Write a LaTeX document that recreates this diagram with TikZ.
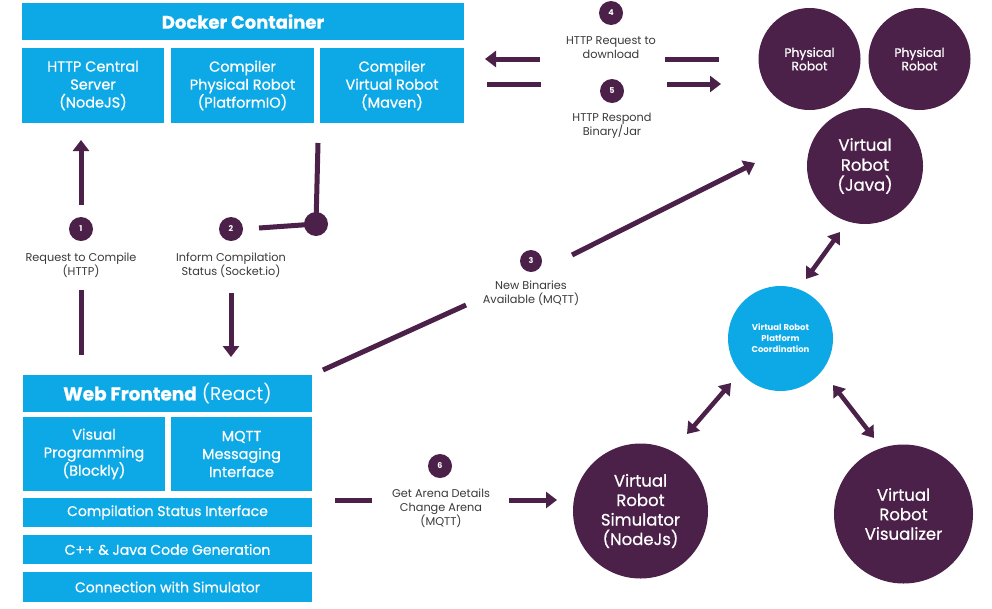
\documentclass[tikz,border=0pt]{standalone}
\usepackage{fontspec}
\setmainfont{Poppins}
\newfontfamily\medfont{Poppins}[FakeBold=0.7]
\usetikzlibrary{arrows.meta}
\definecolor{cy}{HTML}{0DA9E6}
\definecolor{pu}{HTML}{4B2049}
\definecolor{lb}{HTML}{3A3A3A}
\begin{document}
\begin{tikzpicture}[x=1pt,y=-1pt,
  cbox/.style={fill=cy, text=white, inner sep=0pt, outer sep=0pt, align=center, anchor=north west, font=\medfont\fontsize{14.5}{18}\selectfont},
  pc/.style={circle, fill=pu, text=white, inner sep=0pt, align=center},
  num/.style={circle, fill=pu, text=white, inner sep=0pt, minimum size=24pt, font=\fontsize{8}{9}\selectfont\bfseries},
  lbl/.style={text=lb, align=center, inner sep=0pt, font=\fontsize{11.3}{14}\selectfont},
  ln/.style={draw=pu, line width=5pt},
  arr/.style={draw=pu, line width=5pt, -{Triangle[width=16pt,length=11pt]}},
  darr/.style={draw=pu, line width=4.5pt, {Triangle[width=15pt,length=11pt]}-{Triangle[width=15pt,length=11pt]}}
]
\path[use as bounding box, fill=white] (0,0) rectangle (992,608);

% Docker container
\node[cbox, minimum width=442pt, minimum height=37pt, font=\fontsize{18}{20}\selectfont\bfseries\addfontfeature{FakeBold=0.8}] (docker) at (22,3) {Docker Container};
\node[cbox, minimum width=142pt, minimum height=75pt] (http) at (22,48) {HTTP Central\\Server\\(NodeJS)};
\node[cbox, minimum width=143pt, minimum height=75pt] (cpr) at (171,48) {Compiler\\Physical Robot\\(PlatformIO)};
\node[cbox, minimum width=144pt, minimum height=75pt] (cvr) at (320,48) {Compiler\\Virtual Robot\\(Maven)};

% Web frontend
\node[cbox, minimum width=289pt, minimum height=37pt, font=\fontsize{18.5}{20}\selectfont] (web) at (23,375) {{\bfseries\addfontfeature{FakeBold=0.8}Web Frontend} (React)};
\node[cbox, minimum width=142pt, minimum height=74pt] (vp) at (23,417) {Visual\\Programming\\(Blockly)};
\node[cbox, minimum width=141pt, minimum height=74pt] (mq) at (171,417) {MQTT\\Messaging\\Interface};
\node[cbox, minimum width=289pt, minimum height=29pt, font=\medfont\fontsize{14}{16}\selectfont] (csi) at (23,498) {Compilation Status Interface};
\node[cbox, minimum width=289pt, minimum height=29pt, font=\medfont\fontsize{14}{16}\selectfont] (cgen) at (23,535) {C++ \& Java Code Generation};
\node[cbox, minimum width=289pt, minimum height=30pt, font=\medfont\fontsize{14}{16}\selectfont] (conn) at (23,572) {Connection with Simulator};

% Robots
\node[pc, minimum size=102pt, font=\medfont\fontsize{12.3}{13.5}\selectfont] (pr1) at (809.5,59) {Physical\\Robot};
\node[pc, minimum size=102pt, font=\medfont\fontsize{12.3}{13.5}\selectfont] (pr2) at (919.5,59) {Physical\\Robot};
\node[pc, minimum size=116pt, font=\medfont\fontsize{16.5}{20}\selectfont] (vrj) at (865,166) {Virtual\\Robot\\(Java)};
\node[circle, fill=cy, text=white, inner sep=0pt, align=center, minimum size=105pt, font=\fontsize{8.5}{11}\selectfont\bfseries] (coord) at (780.5,338.5) {Virtual Robot\\Platform\\Coordination};
\node[pc, minimum size=135pt, font=\medfont\fontsize{16.5}{19.5}\selectfont] (sim) at (640.5,511) {Virtual\\Robot\\Simulator\\(NodeJs)};
\node[pc, minimum size=139pt, font=\medfont\fontsize{16.5}{19.5}\selectfont] (vis) at (903.5,514) {Virtual\\Robot\\Visualizer};

% number badges and labels
\node[num] (n1) at (81,229) {1};
\node[lbl] (l1) at (81,265) {Request to Compile\\(HTTP)};
\node[num] (n2) at (231,229) {2};
\node[lbl] (l2) at (231,265) {Inform Compilation\\Status (Socket.io)};
\node[num, minimum size=22pt] (n3) at (531,261) {3};
\node[lbl] (l3) at (531,293) {New Binaries\\Available (MQTT)};
\node[num] (n4) at (611,13) {4};
\node[lbl] (l4) at (611,48) {HTTP Request to\\download};
\node[num] (n5) at (612,91) {5};
\node[lbl] (l5) at (612,126) {HTTP Respond\\Binary/Jar};
\node[num] (n6) at (440,466) {6};
\node[lbl] (l6) at (441,508) {Get Arena Details\\Change Arena\\(MQTT)};

% connector end points
\coordinate (a1a) at (81,355);
\coordinate (a1b) at (81,290);
\coordinate (a1c) at (81,205);
\coordinate (a1d) at (81,140);
\coordinate (a2a) at (318,143);
\coordinate (a2j) at (316,224);
\coordinate (a2b) at (259,228);
\coordinate (a2c) at (231,293);
\coordinate (a2d) at (231,357);
\coordinate (a3a) at (323,370);
\coordinate (a3b) at (466,305);
\coordinate (a3c) at (572,255);
\coordinate (a3d) at (755,163);
\coordinate (a4a) at (540,59);
\coordinate (a4b) at (485,59);
\coordinate (a4c) at (665,59);
\coordinate (a4d) at (719,59);
\coordinate (a5a) at (487,84);
\coordinate (a5b) at (541,84);
\coordinate (a5c) at (667,84);
\coordinate (a5d) at (721,84);
\coordinate (a6a) at (335,500);
\coordinate (a6b) at (372,500);
\coordinate (a6c) at (509,500);
\coordinate (a6d) at (557,500);
\coordinate (d1a) at (806,279);
\coordinate (d1b) at (840,232);
\coordinate (d2a) at (731,383);
\coordinate (d2b) at (687,434);
\coordinate (d3a) at (833,385);
\coordinate (d3b) at (874,438);

% connectors
\draw[ln] (a1a) -- (a1b);
\draw[arr] (a1c) -- (a1d);
\draw[ln] (a2a) -- (a2j);
\draw[ln] (a2b) -- (a2j);
\fill[pu] (a2j) circle (12pt);
\draw[arr] (a2c) -- (a2d);
\draw[ln] (a3a) -- (a3b);
\draw[arr] (a3c) -- (a3d);
\draw[arr] (a4a) -- (a4b);
\draw[ln] (a4c) -- (a4d);
\draw[ln] (a5a) -- (a5b);
\draw[arr] (a5c) -- (a5d);
\draw[ln] (a6a) -- (a6b);
\draw[arr] (a6c) -- (a6d);
\draw[darr] (d1a) -- (d1b);
\draw[darr] (d2a) -- (d2b);
\draw[darr] (d3a) -- (d3b);
\end{tikzpicture}
\end{document}
